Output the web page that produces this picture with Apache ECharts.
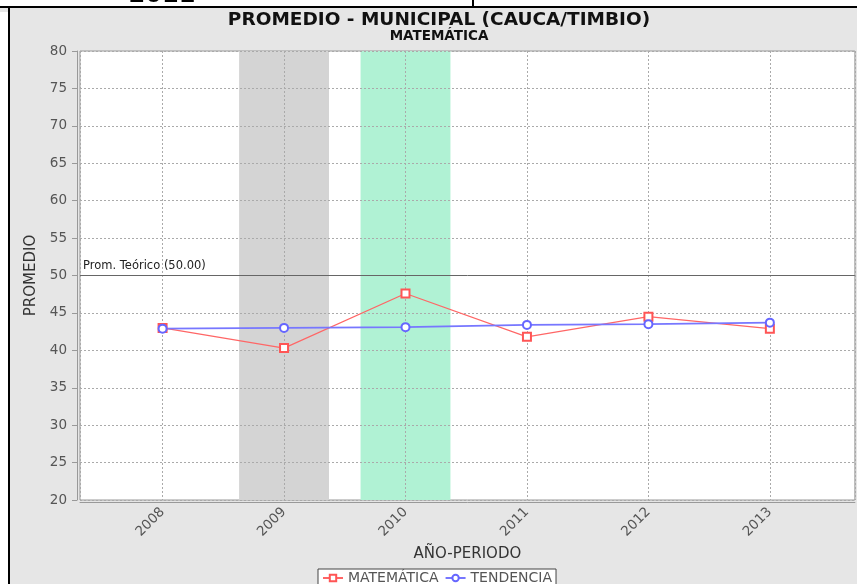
<!DOCTYPE html>
<html>
<head>
<meta charset="utf-8">
<title>Promedio municipal</title>
<script src="https://cdn.jsdelivr.net/npm/echarts@6/dist/echarts.min.js"></script>
<style>
    html, body { margin: 0; padding: 0; background: #fff; }
    #grafica { width: 857px; height: 584px; }
</style>
</head>
<body>
<div id="grafica"></div>
<script>
// datos
var anios = [2008, 2009, 2010, 2011, 2012, 2013];
var matematica = [43.0, 40.3, 47.6, 41.8, 44.5, 42.9];
var tendencia = [42.9, 43.0, 43.1, 43.4, 43.5, 43.7];
var aniosResaltados = [2009, 2010];
var promTeorico = 50;

var fuente = 'DejaVu Sans';
var coloresBanda = ['#d4d4d4', '#b0f2d4'];

function pares(valores) {
    return anios.map(function (a, i) {
        return [a, valores[i]];
    });
}

var myChart = echarts.init(document.getElementById('grafica'));
var option = {
    backgroundColor: '#e6e6e6',
    animation: false,
    textStyle: { fontFamily: fuente },
    graphic: [
        // franja blanca de la tabla de arriba
        { type: 'rect', shape: { x: 0, y: 0, width: 857, height: 6 }, style: { fill: '#fff' } },
        { type: 'rect', shape: { x: 0, y: 0, width: 8, height: 584 }, style: { fill: '#fff' } },
        { type: 'text', style: { text: '2011', x: 162, y: 8, align: 'center', verticalAlign: 'bottom', font: 'bold 24px ' + fuente, fill: '#000' } },
        { type: 'rect', shape: { x: 0, y: 6, width: 857, height: 2 }, style: { fill: '#000' } },
        { type: 'rect', shape: { x: 0, y: 8, width: 857, height: 4 }, style: { fill: '#e6e6e6' } },
        { type: 'rect', shape: { x: 472, y: 0, width: 2, height: 7 }, style: { fill: '#000' } },
        { type: 'rect', shape: { x: 8, y: 7, width: 2, height: 577 }, style: { fill: '#000' } },
        { type: 'text', style: { text: 'PROMEDIO - MUNICIPAL (CAUCA/TIMBIO)', x: 439, y: 11, align: 'center', font: 'bold 18.5px ' + fuente, fill: '#111' } },
        { type: 'text', style: { text: 'MATEMÁTICA', x: 439, y: 29, align: 'center', font: 'bold 13.5px ' + fuente, fill: '#111' } }
    ],
    grid: {
        left: 80, top: 51, width: 775, height: 449,
        show: true, backgroundColor: '#fff', borderColor: '#999', borderWidth: 1, z: 0
    },
    legend: {
        left: 318, top: 569,
        backgroundColor: '#fff', borderColor: '#444', borderWidth: 1,
        padding: [2, 4, 6, 4], itemGap: 6, itemWidth: 20, itemHeight: 8,
        textStyle: { fontSize: 14, color: '#555', fontFamily: fuente },
        data: ['MATEMÁTICA', 'TENDENCIA']
    },
    xAxis: {
        type: 'value', z: 2,
        min: 2007.32, max: 2013.7,
        offset: 2,
        name: 'AÑO-PERIODO', nameLocation: 'middle', nameGap: 45,
        nameTextStyle: { fontSize: 15, color: '#333', fontFamily: fuente },
        axisLine: { show: true, lineStyle: { color: '#999' } },
        axisTick: { show: false },
        axisLabel: {
            rotate: 45, margin: 8, fontSize: 13.5, color: '#555',
            formatter: function (v) { return anios.indexOf(v) >= 0 ? String(v) : ''; }
        },
        splitLine: { show: true, lineStyle: { color: '#aaa', type: [2, 2] } }
    },
    yAxis: {
        type: 'value', z: 2,
        min: 20, max: 80, interval: 5,
        offset: 3,
        name: 'PROMEDIO', nameLocation: 'middle', nameGap: 35, nameRotate: 90,
        nameTextStyle: { fontSize: 15, color: '#333', fontFamily: fuente },
        axisLine: { show: true, lineStyle: { color: '#999' } },
        axisTick: { show: true, length: 5, lineStyle: { color: '#999' } },
        axisLabel: { margin: 10, fontSize: 13.5, color: '#555' },
        splitLine: { show: true, lineStyle: { color: '#aaa', type: [2, 2] } }
    },
    series: [
        {
            name: 'MATEMÁTICA',
            type: 'line', z: 3,
            data: pares(matematica),
            symbol: 'emptyRect', symbolSize: 8,
            lineStyle: { color: '#ff6666', width: 1.2 },
            itemStyle: { color: '#ff5555', borderWidth: 1.2 },
            markArea: {
                silent: true, z: 1,
                data: aniosResaltados.map(function (a, i) {
                    return [
                        { xAxis: a - 0.37, itemStyle: { color: coloresBanda[i] } },
                        { xAxis: a + 0.37 }
                    ];
                })
            },
            markLine: {
                silent: true, symbol: 'none',
                lineStyle: { color: '#666', width: 1, type: 'solid' },
                label: {
                    position: 'insideStartTop', distance: [3, 3],
                    fontSize: 11.5, color: '#222', fontFamily: fuente,
                    formatter: 'Prom. Teórico (' + promTeorico.toFixed(2) + ')'
                },
                data: [{ yAxis: promTeorico }]
            }
        },
        {
            name: 'TENDENCIA',
            type: 'line', z: 3,
            data: pares(tendencia),
            symbol: 'emptyCircle', symbolSize: 8,
            lineStyle: { color: '#7777ff', width: 1.6 },
            itemStyle: { color: '#6666ff', borderWidth: 1.2 }
        }
    ]
};
myChart.setOption(option);
</script>
</body>
</html>
